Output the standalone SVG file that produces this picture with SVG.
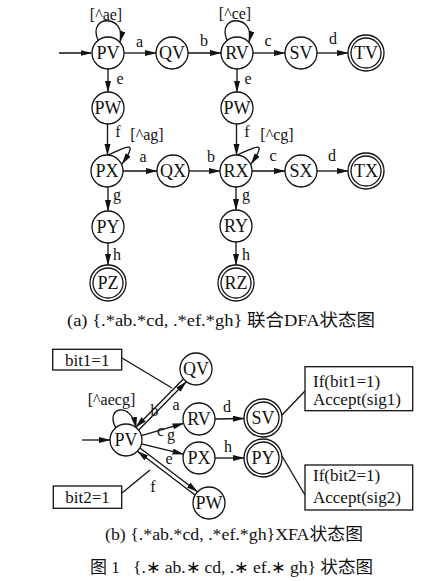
<svg xmlns="http://www.w3.org/2000/svg" width="445" height="581" viewBox="0 0 445 581">
<style>
  .n circle { fill: #fff; stroke: #111; stroke-width: 1.3; }
  .n text { font-family: "Liberation Serif", "Times New Roman", serif; font-size: 18px; text-anchor: middle; fill: #111; }
  .e { fill: none; stroke: #111; stroke-width: 1.3; }
  .ea { fill: none; stroke: #111; stroke-width: 1.3; marker-end: url(#arr); }
  .lbl { font-family: "Liberation Serif", "Times New Roman", serif; font-size: 16px; text-anchor: middle; fill: #111; }
  .box rect { fill: #fff; stroke: #111; stroke-width: 1.3; }
  .box text { font-family: "Liberation Serif", "Times New Roman", serif; font-size: 17px; fill: #111; }
  .cap { font-family: "Liberation Serif", "Noto Sans CJK SC", serif; font-size: 17px; fill: #111; }
</style>
<defs>
  <marker id="arr" markerUnits="userSpaceOnUse" markerWidth="12" markerHeight="7" refX="11" refY="3" orient="auto">
    <path d="M0,0 L11.5,3 L0,6 z" fill="#111"/>
  </marker>
</defs>
<rect width="445" height="581" fill="#fff"/>

<!-- Connectors -->
<g id="connectors">
  <!-- (a) -->
  <path class="ea" d="M59 53 L91.5 53"/>
  <path class="ea" d="M124 53 L156 53"/>
  <path class="ea" d="M188 53 L221 53"/>
  <path class="ea" d="M253 53 L285 53"/>
  <path class="ea" d="M317 53 L348 53"/>
  <path class="ea" d="M108 69 L108 92"/>
  <path class="ea" d="M237 69 L237 92"/>
  <path class="ea" d="M107.5 124 L107.5 155"/>
  <path class="ea" d="M236.5 124 L236.5 155"/>
  <path class="ea" d="M123 171 L157 171"/>
  <path class="ea" d="M189 171 L220 171"/>
  <path class="ea" d="M252 171 L285 171"/>
  <path class="ea" d="M317 171 L348 171"/>
  <path class="ea" d="M108 187 L108 211"/>
  <path class="ea" d="M236 187 L236 210"/>
  <path class="ea" d="M108 243 L108 265"/>
  <path class="ea" d="M236 242 L236 265"/>
  <path class="ea" d="M98 40 C87 14, 127 14, 120 42"/>
  <path class="ea" d="M227 40 C216 14, 256 14, 249 42"/>
  <path class="ea" d="M108 155 C125 148, 140 138, 122 164"/>
  <path class="ea" d="M237 155 C254 148, 269 138, 251 164"/>
  <!-- (b) -->
  <path class="ea" d="M82 440 L110 440"/>
  <path class="ea" d="M116 428 C104 408, 131 400, 136 428"/>
  <path class="ea" d="M138.7 430 L186.2 381.8"/>
  <path class="ea" d="M183.4 379 L135.8 427.2"/>
  <path class="ea" d="M141.4 435.6 L183.6 423.4"/>
  <path class="ea" d="M141.5 443.8 L183.5 454.2"/>
  <path class="ea" d="M140 448.1 L197.5 491.7"/>
  <path class="ea" d="M195 494.9 L137.5 451.3"/>
  <path class="ea" d="M215 419 L244 418.5"/>
  <path class="ea" d="M215 458 L244 458"/>
  <path class="e" d="M122 358 L172 388"/>
  <path class="e" d="M122 493 L150 470"/>
  <path class="e" d="M282 415 L305 391"/>
  <path class="e" d="M282 456 L305 495"/>
</g>

<!-- Edge labels -->
<g id="edge-labels">
  <text class="lbl" x="106" y="20">[^ae]</text>
  <text class="lbl" x="235" y="19">[^ce]</text>
  <text class="lbl" x="139.5" y="47">a</text>
  <text class="lbl" x="204" y="46">b</text>
  <text class="lbl" x="268" y="46">c</text>
  <text class="lbl" x="333" y="44">d</text>
  <text class="lbl" x="120" y="84">e</text>
  <text class="lbl" x="248" y="84">e</text>
  <text class="lbl" x="118" y="137">f</text>
  <text class="lbl" x="247" y="137">f</text>
  <text class="lbl" x="147" y="140">[^ag]</text>
  <text class="lbl" x="277" y="140">[^cg]</text>
  <text class="lbl" x="143" y="162">a</text>
  <text class="lbl" x="211" y="162">b</text>
  <text class="lbl" x="273" y="161">c</text>
  <text class="lbl" x="332" y="161">d</text>
  <text class="lbl" x="117" y="200">g</text>
  <text class="lbl" x="246" y="200">g</text>
  <text class="lbl" x="117" y="260">h</text>
  <text class="lbl" x="246" y="260">h</text>

  <text class="lbl" x="111.5" y="405">[^aecg]</text>
  <text class="lbl" x="154.5" y="416">b</text>
  <text class="lbl" x="176" y="410">a</text>
  <text class="lbl" x="160.5" y="436">c</text>
  <text class="lbl" x="171" y="440">g</text>
  <text class="lbl" x="169" y="464">e</text>
  <text class="lbl" x="153" y="492">f</text>
  <text class="lbl" x="227" y="412">d</text>
  <text class="lbl" x="228" y="452">h</text>
</g>

<!-- Nodes (a) -->
<g id="a-PV" class="n"><circle cx="108" cy="53" r="16"/><text x="108" y="59">PV</text></g>
<g id="a-QV" class="n"><circle cx="172" cy="53" r="16"/><text x="172" y="59">QV</text></g>
<g id="a-RV" class="n"><circle cx="237" cy="53" r="16"/><text x="237" y="59">RV</text></g>
<g id="a-SV" class="n"><circle cx="301" cy="53" r="16"/><text x="301" y="59">SV</text></g>
<g id="a-TV" class="n"><circle cx="366" cy="53" r="18"/><circle cx="366" cy="53" r="15"/><text x="366" y="59">TV</text></g>
<g id="a-PW1" class="n"><circle cx="108" cy="108" r="16"/><text x="108" y="114">PW</text></g>
<g id="a-PW2" class="n"><circle cx="237" cy="108" r="16"/><text x="237" y="114">PW</text></g>
<g id="a-PX" class="n"><circle cx="107" cy="171" r="16"/><text x="107" y="177">PX</text></g>
<g id="a-QX" class="n"><circle cx="173" cy="171" r="16"/><text x="173" y="177">QX</text></g>
<g id="a-RX" class="n"><circle cx="236" cy="171" r="16"/><text x="236" y="177">RX</text></g>
<g id="a-SX" class="n"><circle cx="301" cy="171" r="16"/><text x="301" y="177">SX</text></g>
<g id="a-TX" class="n"><circle cx="366" cy="171" r="18"/><circle cx="366" cy="171" r="15"/><text x="366" y="177">TX</text></g>
<g id="a-PY" class="n"><circle cx="108" cy="227" r="16"/><text x="108" y="233">PY</text></g>
<g id="a-RY" class="n"><circle cx="236" cy="226" r="16"/><text x="236" y="232">RY</text></g>
<g id="a-PZ" class="n"><circle cx="108" cy="283" r="18"/><circle cx="108" cy="283" r="15"/><text x="108" y="289">PZ</text></g>
<g id="a-RZ" class="n"><circle cx="236" cy="283" r="18"/><circle cx="236" cy="283" r="15"/><text x="236" y="289">RZ</text></g>

<!-- Nodes (b) -->
<g id="b-PV" class="n"><circle cx="126" cy="440" r="16"/><text x="126" y="446">PV</text></g>
<g id="b-QV" class="n"><circle cx="196" cy="369" r="16"/><text x="196" y="375">QV</text></g>
<g id="b-RV" class="n"><circle cx="199" cy="419" r="16"/><text x="199" y="425">RV</text></g>
<g id="b-SV" class="n"><circle cx="263" cy="418" r="19"/><circle cx="263" cy="418" r="16"/><text x="263" y="424">SV</text></g>
<g id="b-PX" class="n"><circle cx="199" cy="458" r="16"/><text x="199" y="464">PX</text></g>
<g id="b-PY" class="n"><circle cx="263" cy="458" r="19"/><circle cx="263" cy="458" r="16"/><text x="263" y="464">PY</text></g>
<g id="b-PW" class="n"><circle cx="209" cy="503" r="16"/><text x="209" y="509">PW</text></g>

<g id="box-bit1" class="box"><rect x="52.7" y="349.3" width="69" height="20.7"/><text x="87.2" y="366" text-anchor="middle">bit1=1</text></g>
<g id="box-bit2" class="box"><rect x="53.3" y="486" width="68.4" height="22.3"/><text x="87.5" y="503" text-anchor="middle">bit2=1</text></g>
<g id="box-acc1" class="box"><rect x="305" y="366.7" width="107.7" height="44"/><text x="313" y="387">If(bit1=1)</text><text x="313" y="405">Accept(sig1)</text></g>
<g id="box-acc2" class="box"><rect x="305" y="465" width="107.7" height="45"/><text x="313" y="481">If(bit2=1)</text><text x="313" y="503">Accept(sig2)</text></g>

<!-- Captions -->
<g id="captions">
  <text class="cap" x="67" y="326" textLength="308" lengthAdjust="spacingAndGlyphs">(a) {.*ab.*cd, .*ef.*gh} 联合DFA状态图</text>
  <text class="cap" x="105" y="540" textLength="258" lengthAdjust="spacingAndGlyphs">(b) {.*ab.*cd, .*ef.*gh}XFA状态图</text>
  <text class="cap" x="90" y="573">图 1</text>
  <text class="cap" x="133" y="573" textLength="240" lengthAdjust="spacingAndGlyphs">{.∗ ab.∗ cd, .∗ ef.∗ gh} 状态图</text>
</g>
</svg>
